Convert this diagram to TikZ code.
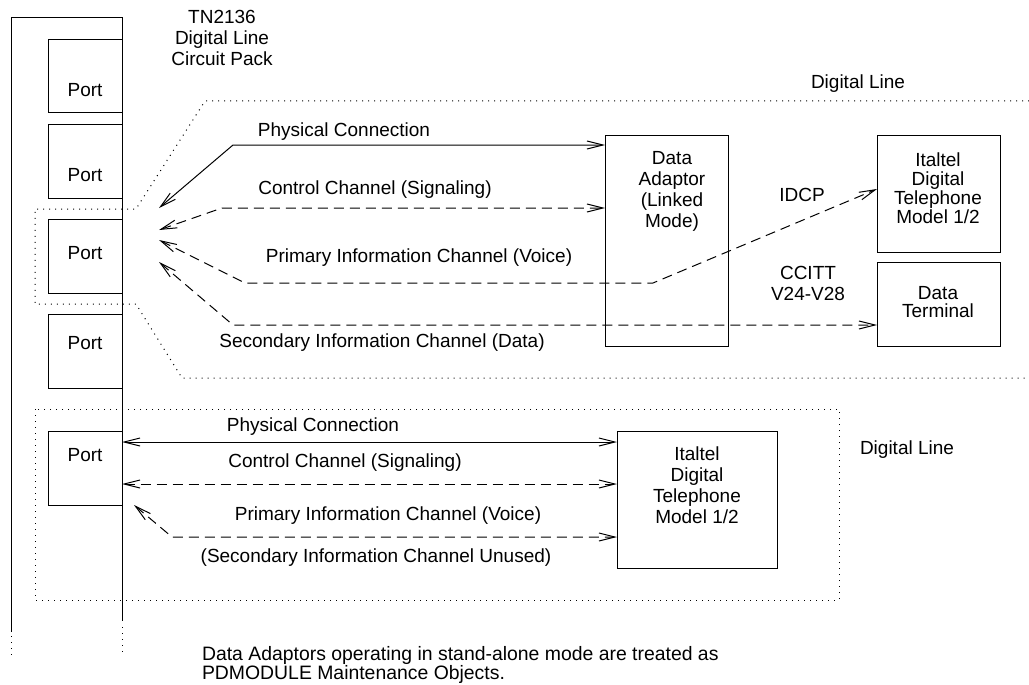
\documentclass[tikz,border=0pt]{standalone}
\usepackage{fontspec}
\setmainfont{Liberation Sans}
\usetikzlibrary{arrows.meta}
\begin{document}
\begin{tikzpicture}[x=1pt,y=-1pt,
  every node/.style={font=\fontsize{19}{21}\selectfont, inner sep=0pt, outer sep=0pt},
  lbl/.style={align=center},
  box/.style={draw, line width=1pt, anchor=north west},
  conn/.style={line width=1pt},
  dsh/.style={conn, dash pattern=on 10pt off 6pt},
  dot/.style={line width=1pt, dash pattern=on 1pt off 5pt},
  >={Straight Barb[length=16pt,width=8pt]}
]
\useasboundingbox (0,0) rectangle (1029,685);

% circuit pack
\draw[conn] (11,632) -- (11,18) -- (122,18) -- (122,621);
\draw[dot] (11,636) -- (11,655);
\draw[dot] (122,627) -- (122,655);

% ports
\node[box, minimum width=74pt, minimum height=73pt] (port1) at (48,40) {};
\node[box, minimum width=74pt, minimum height=74pt] (port2) at (48,124) {};
\node[box, minimum width=74pt, minimum height=74pt] (port3) at (48,219) {};
\node[box, minimum width=74pt, minimum height=74pt] (port4) at (48,314) {};
\node[box, minimum width=74pt, minimum height=74pt] (port5) at (48,431) {};
\node (port1t) at (85,90) {Port};
\node (port2t) at (85,175) {Port};
\node (port3t) at (85,253) {Port};
\node (port4t) at (85,343) {Port};
\node (port5t) at (85,455) {Port};

\node[lbl] (tn) at (222,37.5) {TN2136\\Digital Line\\Circuit Pack};

% upper digital line region
\draw[dot] (1029,101) -- (205,101) -- (136,209) -- (35,209) -- (35,304) -- (136,304) -- (182,378) -- (1029,378);
\node (dl1) at (858,84) {Digital Line};

% upper boxes
\node[box, minimum width=123pt, minimum height=211pt] (da) at (605,135) {};
\node[lbl] (dat) at (672,191) {Data\\Adaptor\\(Linked\\Mode)};
\node[box, minimum width=123pt, minimum height=117pt] (it1) at (877,135) {};
\node[lbl, font=\fontsize{19}{19}\selectfont] (it1t) at (938,188) {Italtel\\Digital\\Telephone\\Model 1/2};
\node[box, minimum width=123pt, minimum height=84pt] (dt) at (877,262) {};
\node[lbl, font=\fontsize{19}{18}\selectfont] (dtt) at (938,302) {Data\\Terminal};

\node (idcp) at (802,195) {IDCP};
\node[lbl] (ccitt) at (808,283) {CCITT\\V24-V28};

% upper connectors
\coordinate (pa) at (159,208);
\coordinate (pb) at (159,230);
\coordinate (pc) at (159,240);
\coordinate (pd) at (159,262);
\coordinate (ka) at (233,145);
\coordinate (kb) at (222,208);
\coordinate (kc) at (245,283);
\coordinate (kc2) at (653,283);
\coordinate (kd) at (233,325);

\draw[conn, <->] (pa) -- (ka) -- ([yshift=-10pt]da.north west);
\draw[dsh, <->] (pb) -- (kb) -- ([yshift=-73pt]da.north west);
\draw[dsh, <->] (pc) -- (kc) -- (kc2) -- ([yshift=-54pt]it1.north west);
\draw[dsh, <->] (pd) -- (kd) -- ([yshift=-63pt]dt.north west);

\node (l1) at (344,132) {Physical Connection};
\node (l2) at (375,190) {Control Channel (Signaling)};
\node (l3) at (419,258) {Primary Information Channel (Voice)};
\node (l4) at (382,343) {Secondary Information Channel (Data)};

% lower digital line region
\draw[dot] (35,409) rectangle (839,600);
\node (dl2) at (907,450) {Digital Line};

\node[box, minimum width=160pt, minimum height=137pt] (it2) at (617,431) {};
\node[lbl] (it2t) at (697,485) {Italtel\\Digital\\Telephone\\Model 1/2};

\coordinate (qc) at (134,505);
\coordinate (kq) at (172,537);
\draw[conn, <->] ([yshift=-11pt]port5.north east) -- ([yshift=-11pt]it2.north west);
\draw[dsh, <->] ([yshift=-53pt]port5.north east) -- ([yshift=-53pt]it2.north west);
\draw[dsh, <->] (qc) -- (kq) -- ([yshift=-106pt]it2.north west);

\node (m1) at (313,427) {Physical Connection};
\node (m2) at (345,463) {Control Channel (Signaling)};
\node (m3) at (388,516) {Primary Information Channel (Voice)};
\node (m4) at (376,558) {(Secondary Information Channel Unused)};

% footer
\node[align=left, anchor=west, font=\fontsize{19.4}{15.5}\selectfont] (foot) at (202,665) {Data Adaptors operating in stand-alone mode are treated as\\PDMODULE Maintenance Objects.};
\end{tikzpicture}
\end{document}
